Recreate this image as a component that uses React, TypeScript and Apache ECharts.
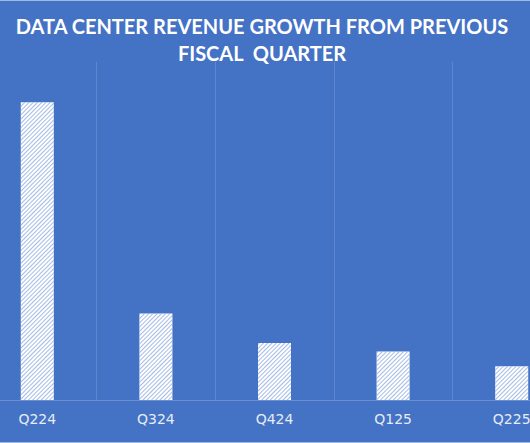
import React, { useEffect, useRef } from "react";
import * as echarts from "echarts";

const categories = ["Q224", "Q324", "Q424", "Q125", "Q225"];
const growthPct = [141, 41, 27, 23, 16];
const titleLines = ["DATA CENTER REVENUE GROWTH FROM PREVIOUS", "FISCAL  QUARTER"];

export default function App() {
  const ref = useRef<HTMLDivElement>(null);
  useEffect(() => {
    if (!ref.current) return;
    const chart = echarts.init(ref.current, null, { renderer: "svg" });
    chart.setOption({
      animation: false,
      backgroundColor: "#4472C4",
      title: {
        text: titleLines.join("\n"),
        left: 279,
        textAlign: "center",
        top: 7,
        textStyle: {
          color: "#ffffff",
          fontFamily: "Lato",
          fontWeight: "bold",
          fontSize: 20,
          lineHeight: 27,
        },
      },
      graphic: [
        { type: "rect", left: 0, top: 0, shape: { width: 600, height: 1 }, style: { fill: "#9fb8e4" }, silent: true },
        { type: "rect", left: 0, top: 442, shape: { width: 600, height: 1 }, style: { fill: "#9fb8e4" }, silent: true },
      ],
      grid: { left: 0, right: 0, top: 62, bottom: 43 },
      xAxis: {
        type: "category",
        data: categories,
        axisLine: { lineStyle: { color: "#6b8fd2", width: 1 } },
        axisTick: { show: false },
        splitLine: { show: true, lineStyle: { color: "#5f86cf", width: 1 } },
        axisLabel: {
          color: "#e6ecf7",
          fontFamily: "DejaVu Sans",
          fontSize: 14,
          margin: 12,
        },
      },
      yAxis: {
        type: "value",
        min: 0,
        max: 160,
        show: false,
        splitLine: { show: false },
      },
      series: [
        {
          type: "bar",
          data: growthPct,
          barWidth: 33,
          itemStyle: {
            color: "#ffffff",
            decal: {
              symbol: "rect",
              dashArrayX: [1, 0],
              dashArrayY: [1, 1.6],
              rotation: -Math.PI / 4,
              color: "rgba(140,170,222,0.8)",
              symbolSize: 1,
            },
          },
        },
      ],
    });
    return () => chart.dispose();
  }, []);
  return (
    <div style={{ position: "fixed", left: 0, top: 0, width: 530, height: 443, overflow: "hidden" }}>
      <div ref={ref} style={{ position: "absolute", left: -22, top: 0, width: 593, height: 443 }} />
    </div>
  );
}
